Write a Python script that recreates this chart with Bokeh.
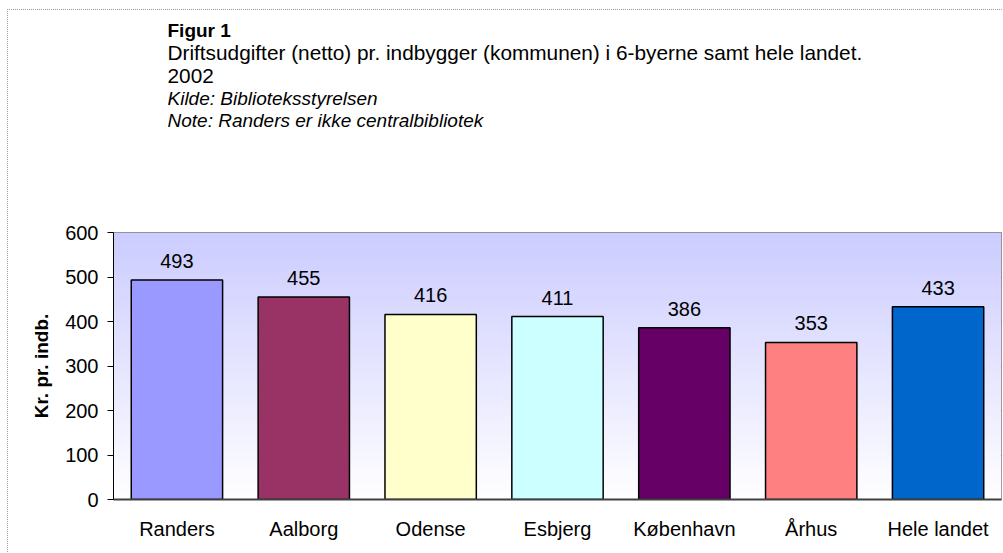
import numpy as np
from bokeh.plotting import figure
from bokeh.models import FactorRange, Range1d, Title, SingleIntervalTicker, ColumnDataSource
from bokeh.core.properties import value
from bokeh.embed import file_html
from bokeh.resources import INLINE

categories = ["Randers", "Aalborg", "Odense", "Esbjerg", "København", "Århus", "Hele landet"]
values = [493, 455, 416, 411, 386, 353, 433]
colors = ["#9999ff", "#993366", "#ffffcc", "#ccffff", "#660066", "#ff8080", "#0066cc"]

title_bold = "Figur 1"
title_main = "Driftsudgifter (netto) pr. indbygger (kommunen) i 6-byerne samt hele landet."
title_year = "2002"
note_source = "Kilde: Biblioteksstyrelsen"
note_text = "Note: Randers er ikke centralbibliotek"
y_label = "Kr. pr. indb."

FONT = "Liberation Sans"

p = figure(
    x_range=FactorRange(*categories, range_padding=0),
    y_range=Range1d(0, 600),
    width=995, height=543,
    min_border_left=105, min_border_right=2, min_border_top=222, min_border_bottom=54,
    output_backend="svg", toolbar_location=None, title_location=None,
)
p.margin = (9, 0, 0, 7)
p.styles = {"border-top": "1px dotted #9a9a9a", "border-left": "1px dotted #9a9a9a"}

# gradient background of plot area (white at bottom -> lavender at top)
rows = 256
t = np.linspace(0.0, 1.0, rows)[:, None]
r = (255 - (255 - 204) * t).astype(np.uint32)
g = (255 - (255 - 204) * t).astype(np.uint32)
b = np.full_like(r, 255)
a = np.full_like(r, 255)
img = (a << 24) | (b << 16) | (g << 8) | r
img = np.repeat(img, 8, axis=1)
p.image_rgba(image=[img], x=0, y=0, dw=len(categories), dh=600)

src = ColumnDataSource(dict(cat=categories, val=values, col=colors,
                            lab=[str(v) for v in values]))
p.vbar(x="cat", top="val", width=0.72, bottom=0, source=src, fill_color="col",
       line_color="#000000", line_width=1.5)
p.text(x="cat", y="val", text="lab", source=src, text_align="center",
       text_baseline="alphabetic", y_offset=-19, text_font=value(FONT),
       text_font_size="20px", text_color="#000000")

p.background_fill_color = None
p.border_fill_color = "white"
p.outline_line_color = "#808080"
p.outline_line_width = 1

p.xgrid.grid_line_color = None
p.ygrid.grid_line_color = "#000000"
p.ygrid.grid_line_width = 1
p.ygrid.level = "underlay"

p.yaxis.ticker = SingleIntervalTicker(interval=100)
p.yaxis.major_tick_out = 6
p.yaxis.major_tick_in = 0
p.yaxis.minor_tick_line_color = None
p.yaxis.axis_line_color = "#000000"
p.yaxis.major_tick_line_color = "#000000"
p.yaxis.major_label_text_font = FONT
p.yaxis.major_label_text_font_size = "20px"
p.yaxis.major_label_text_color = "#000000"
p.yaxis.major_label_standoff = 9
p.yaxis.axis_label = y_label
p.yaxis.axis_label_text_font = FONT
p.yaxis.axis_label_text_font_size = "19px"
p.yaxis.axis_label_text_font_style = "bold"
p.yaxis.axis_label_text_color = "#000000"
p.yaxis.axis_label_standoff = 10

p.xaxis.major_tick_line_color = None
p.xaxis.minor_tick_line_color = None
p.xaxis.axis_line_color = "#404040"
p.xaxis.axis_line_width = 2
p.xaxis.major_label_text_font = FONT
p.xaxis.major_label_text_font_size = "20px"
p.xaxis.major_label_text_color = "#000000"
p.xaxis.major_label_standoff = 12

# header lines: first added sits closest to the plot
def add_title(txt, size, style, standoff):
    p.add_layout(Title(text=txt, align="left", offset=54, standoff=standoff,
                       text_font=FONT, text_font_size=size, text_font_style=style,
                       text_color="#000000"), "above")

add_title(" ", "10px", "normal", 85)          # blank gap above plot area
add_title(note_text, "19px", "italic", 8)
add_title(note_source, "19px", "italic", -11.4)
add_title(title_year, "20.8px", "normal", 17)
add_title(title_main, "20.8px", "normal", -11.4)
add_title(title_bold, "19px", "bold", 7.6)

open("out.html", "w").write(file_html(p, INLINE))
